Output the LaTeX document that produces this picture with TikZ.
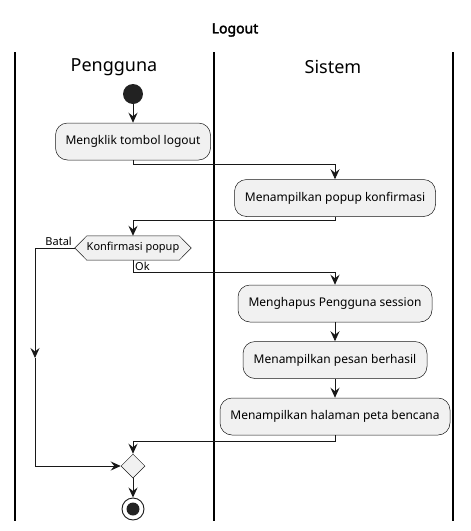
\documentclass[tikz,border=0pt]{standalone}
\usepackage{fontspec}
\setmainfont{Noto Sans}
\newfontfamily\titlefont{Noto Sans}[FakeBold=2.5]
\usetikzlibrary{arrows.meta,shapes.geometric}
\definecolor{actfill}{HTML}{F1F1F1}
\definecolor{actdraw}{HTML}{181818}
\definecolor{dotfill}{HTML}{222222}
\begin{document}
\begin{tikzpicture}[x=1pt,y=-1pt,
  act/.style={draw=actdraw, fill=actfill, rounded corners=12pt, minimum height=37pt,
    font=\fontsize{12}{14}\selectfont, inner sep=0pt, line width=0.5pt},
  flow/.style={-{Stealth[length=10pt,width=9pt,inset=3.5pt]}, line width=0.9pt, color=actdraw},
  lane/.style={line width=1.3pt, color=black},
  lbl/.style={font=\fontsize{11}{13}\selectfont, inner sep=0pt}]
\useasboundingbox (0,0) rectangle (471,531);
% title and lanes
\node[font=\titlefont\fontsize{14}{16}\selectfont] (title) at (235,30) {Logout};
\draw[lane] (15,52) -- (15,521);
\draw[lane] (214,52) -- (214,521);
\draw[lane] (453,52) -- (453,521);
\node[font=\fontsize{18}{20}\selectfont] (h1) at (114,67) {Pengguna};
\node[font=\fontsize{18}{20}\selectfont] (h2) at (333,67) {Sistem};
% nodes
\node[circle, fill=dotfill, minimum size=20pt, inner sep=0pt] (start) at (133,94) {};
\node[act, minimum width=155pt] (a1) at (133,141.5) {Mengklik tombol logout};
\node[act, minimum width=201pt] (a2) at (335,198) {Menampilkan popup konfirmasi};
\node[minimum width=116pt, minimum height=24pt, inner sep=0pt] (dec) at (133,248) {};
\draw[draw=actdraw, fill=actfill, line width=0.5pt]
  (dec.west) -- ([xshift=12pt]dec.north west) -- ([xshift=-12pt]dec.north east)
  -- (dec.east) -- ([xshift=-12pt]dec.south east) -- ([xshift=12pt]dec.south west) -- cycle;
\node[lbl] (dectext) at (dec.center) {Konfirmasi popup};
\node[act, minimum width=194pt] (a3) at (335,303.5) {Menghapus Pengguna session};
\node[act, minimum width=184pt] (a4) at (335,360) {Menampilkan pesan berhasil};
\node[act, minimum width=230pt] (a5) at (335,416.5) {Menampilkan halaman peta bencana};
\node[diamond, draw=actdraw, fill=actfill, line width=0.5pt, minimum size=24pt, inner sep=0pt] (m) at (133,466) {};
\node[circle, draw=actdraw, line width=0.9pt, minimum size=22pt, inner sep=0pt] (end) at (133,509) {};
\node[circle, fill=dotfill, minimum size=13pt, inner sep=0pt] (endin) at (end.center) {};
\coordinate (bmid) at (35,358);
% connectors
\draw[flow] (start) -- (a1);
\draw[flow] (a1.south) -- ++(0,4) -| (a2.north);
\draw[flow] (a2.south) -- ++(0,4) -| (dec.north);
\draw[flow] (dec.west) -| (bmid);
\draw[flow] (bmid) |- (m.west);
\draw[flow] (dec.south) -- ++(0,12) -| (a3.north);
\draw[flow] (a3) -- (a4);
\draw[flow] (a4) -- (a5);
\draw[flow] (a5.south) -- ++(0,6) -| (m.north);
\draw[flow] (m) -- (end);
% labels
\node[lbl, anchor=base east] (batal) at (72,245) {Batal};
\node[lbl, anchor=base west] (ok) at (135,270) {Ok};
\end{tikzpicture}
\end{document}
